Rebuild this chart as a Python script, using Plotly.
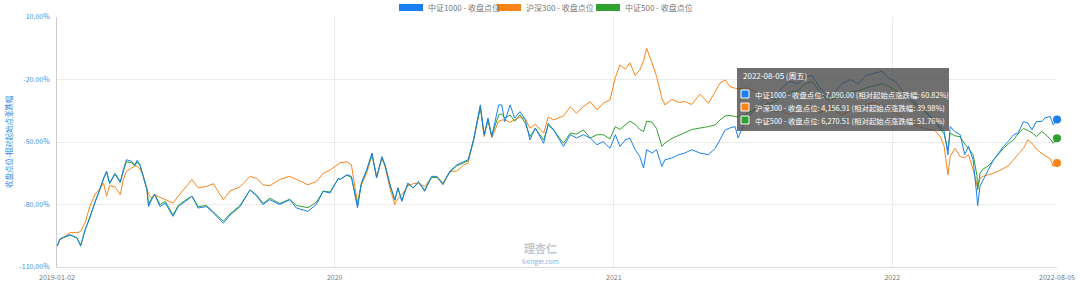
import plotly.graph_objects as go

dates = [
    "2019-01-02","2019-01-06","2019-01-19","2019-01-28","2019-02-02","2019-02-08","2019-02-14","2019-02-21",
    "2019-02-27","2019-03-04","2019-03-08","2019-03-12","2019-03-19","2019-03-26","2019-03-30","2019-04-03",
    "2019-04-10","2019-04-14","2019-04-17","2019-04-21","2019-04-25","2019-04-30","2019-05-02","2019-05-06",
    "2019-05-10","2019-05-17","2019-05-24","2019-06-03","2019-06-10","2019-06-19","2019-06-28","2019-07-06",
    "2019-07-17","2019-07-26","2019-08-08","2019-08-17","2019-08-30","2019-09-12","2019-09-21","2019-09-29",
    "2019-10-08","2019-10-21","2019-11-03","2019-11-12","2019-11-27","2019-12-08","2019-12-17","2019-12-26",
    "2020-01-06","2020-01-08","2020-01-17","2020-01-23","2020-01-31","2020-02-05","2020-02-12","2020-02-19",
    "2020-02-25","2020-03-03","2020-03-07","2020-03-14","2020-03-20","2020-03-24","2020-03-29","2020-04-06",
    "2020-04-13","2020-04-20","2020-04-28","2020-05-07","2020-05-14","2020-05-22","2020-05-31","2020-06-09",
    "2020-06-18","2020-06-24","2020-07-01","2020-07-10","2020-07-15","2020-07-20","2020-07-25","2020-08-03",
    "2020-08-07","2020-08-11","2020-08-18","2020-08-24","2020-08-31","2020-09-07","2020-09-13","2020-09-20",
    "2020-10-01","2020-10-07","2020-10-14","2020-10-27","2020-11-05","2020-11-13","2020-11-22","2020-12-01",
    "2020-12-10","2020-12-18","2020-12-27","2021-01-03","2021-01-09","2021-01-16","2021-01-22","2021-01-29",
    "2021-02-04","2021-02-09","2021-02-13","2021-02-20","2021-02-26","2021-03-05","2021-03-09","2021-03-18",
    "2021-03-27","2021-04-04","2021-04-13","2021-04-24","2021-05-05","2021-05-14","2021-05-20","2021-05-27",
    "2021-06-02","2021-06-09","2021-06-13","2021-06-22","2021-07-01","2021-07-12","2021-07-22","2021-07-31",
    "2021-08-09","2021-08-20","2021-08-30","2021-09-09","2021-09-18","2021-09-28","2021-10-09","2021-10-18",
    "2021-10-27","2021-11-07","2021-11-17","2021-11-28","2021-12-08","2021-12-19","2021-12-26","2022-01-05",
    "2022-01-18","2022-01-31","2022-02-13","2022-02-26","2022-03-05","2022-03-10","2022-03-15","2022-03-18",
    "2022-03-24","2022-03-31","2022-04-06","2022-04-11","2022-04-17","2022-04-22","2022-04-23","2022-04-26",
    "2022-04-30","2022-05-07","2022-05-14","2022-05-20","2022-05-27","2022-06-02","2022-06-09","2022-06-15",
    "2022-06-22","2022-06-28","2022-07-03","2022-07-09","2022-07-16","2022-07-20","2022-07-27","2022-07-31",
    "2022-08-05",
]

csi1000 = [
    -100,-96.5,-94.5,-96,-100,-92,-86.5,-78.5,
    -73,-67.3,-64,-69.7,-65,-69,-63.3,-58.5,
    -59.3,-61,-58.8,-61,-66.5,-73,-81,-77.7,
    -75.3,-81,-79.3,-85.7,-81,-78.5,-76.1,-81.7,
    -81,-84,-89,-85,-81,-73,-76,-80,
    -77.7,-80,-77.7,-81.7,-83.3,-80,-73.7,-74.5,
    -67.3,-68,-65.7,-66.5,-81.7,-69.7,-63.3,-55.3,
    -67.3,-57,-61,-71.3,-77.7,-72,-78.5,-69.7,
    -72,-69,-73.7,-66.5,-66.5,-70.5,-64,-61,
    -59.3,-58.5,-49,-32.2,-46.5,-38.5,-47.4,-32.2,
    -32.2,-40.2,-32.2,-38.5,-35.4,-39.4,-49,-43.3,
    -50.6,-41,-44.2,-52.1,-46.5,-48.1,-46.5,-48.1,
    -51.3,-49.8,-53,-46.5,-52.1,-49,-48.1,-53.7,
    -57,-62.5,-53.7,-55.3,-53.7,-61.7,-58.5,-57.7,
    -56.1,-55.3,-53.7,-55.3,-56.1,-53,-49,-44.2,
    -43.3,-42.6,-48.1,-40,-36,-32,-28,-30,
    -24,-21,-22,-19,-18,-24,-28,-26,
    -22,-20,-22,-18,-17,-16,-19,-21,
    -27,-31,-35,-40,-42.6,-45,-56.1,-42.6,
    -45,-46.5,-56,-52.1,-58.5,-76.1,-80.6,-71.3,
    -68.1,-63.3,-58.5,-55.3,-52.1,-49.8,-46.5,-45.7,
    -40.2,-41,-44.2,-40.2,-40.2,-38.5,-37.7,-41.8,
    -39.18,
]

csi500 = [
    -100,-96.5,-94.7,-96,-99.5,-92,-86,-78.5,
    -73,-67.8,-64.5,-70,-65.5,-69.5,-64,-59.5,
    -60,-61.5,-59.5,-61.5,-66.5,-73,-80,-77,
    -75,-80,-78.5,-85,-80.5,-78,-76,-81,
    -80.5,-83.5,-88,-84.5,-80.5,-73,-75.5,-79.5,
    -77,-79.5,-77.5,-80.5,-81.5,-79,-73.5,-74,
    -67.5,-68,-66,-67,-80.5,-70,-63.5,-56,
    -67,-57.5,-61,-71,-78,-72,-78,-70,
    -72,-69.5,-73,-67,-67,-70,-64.5,-61.5,
    -60,-59,-49.5,-33.5,-46.5,-39.5,-47,-37,
    -36.5,-38.5,-37,-40,-37,-41,-47.4,-43.5,
    -49,-42,-44.2,-50.6,-45.7,-46.2,-44.2,-48.1,
    -46.5,-46.5,-48.5,-42.6,-44,-42,-40,-41.5,
    -44,-45,-40,-40.5,-43.5,-52.1,-50.5,-48.3,
    -47,-45.5,-44,-43.4,-42.6,-41.8,-39.5,-37.5,
    -37.2,-37.8,-38,-37,-35,-33,-31.5,-31,
    -28,-26,-25.5,-22,-21,-26,-30,-29,
    -27,-26,-25.5,-24,-23,-22,-23,-25,
    -28,-32,-35.5,-40,-44,-46,-54,-45.7,
    -47,-47.5,-51,-53,-56.1,-66,-73,-65,
    -63,-61.5,-58.5,-56,-53,-51,-49,-46,
    -43.5,-44.5,-45.5,-47.4,-45,-46,-48.5,-50.6,
    -48.24,
]

csi300 = [
    -100,-97,-93.5,-93.5,-93,-88.5,-81,-75,
    -72.5,-69.7,-76,-71,-71.5,-75.3,-68,-64,
    -62.5,-61.5,-61.7,-63,-66,-72,-75,-76.9,
    -75.5,-76.5,-77.7,-79.3,-76,-72,-68,-72,
    -71.3,-70,-77.7,-73.5,-71.5,-66.5,-67.5,-70.5,
    -71,-68,-66.5,-68,-70.5,-69,-65,-63.5,
    -60.5,-60,-59.5,-61,-79.3,-70.5,-65,-56,
    -66.5,-57.7,-61.7,-73,-80,-77,-75.5,-71,
    -70,-69.7,-71.5,-67,-66.5,-69.7,-64.1,-64,
    -61,-60,-49,-33,-47.4,-39.4,-48,-40,
    -39.5,-39.4,-40.5,-39.5,-38,-39,-43.3,-41.5,
    -45.7,-38,-39.4,-37.5,-33,-36.2,-33,-30.6,
    -34.6,-31.4,-29.8,-19,-13,-15,-12,-18,
    -15.5,-11,-5,-12,-18.5,-29,-32.2,-29.5,
    -31,-30.6,-32,-27,-31.4,-25.8,-21.8,-20.2,
    -23.4,-24.2,-24.5,-24,-25,-27,-31,-35.5,
    -35,-37,-34,-33,-33.5,-36,-34,-35,
    -37,-35,-34,-32,-31,-33,-34,-36,
    -39,-42,-43.5,-44.5,-47.4,-52,-65.7,-57,
    -53,-57,-57.5,-56.1,-63.3,-70,-72.1,-67.5,
    -66.5,-65.7,-65,-64,-62.5,-61.5,-58.5,-56,
    -53,-49,-50.5,-53.5,-55.5,-56.5,-58,-61.7,
    -60.02,
]

series_names = ["中证1000 - 收盘点位", "沪深300 - 收盘点位", "中证500 - 收盘点位"]
series_colors = ["#1a7ff0", "#fa8419", "#2fa12f"]
tooltip_title = "2022-08-05 (周五)"
tooltip_rows = [
    "中证1000 - 收盘点位: 7,090.00 (相对起始点涨跌幅: 60.82%)",
    "沪深300 - 收盘点位: 4,156.91 (相对起始点涨跌幅: 39.98%)",
    "中证500 - 收盘点位: 6,270.51 (相对起始点涨跌幅: 51.76%)",
]
y_ticks = [10, -20, -50, -80, -110]
y_tick_labels = ["10.00%", "-20.00%", "-50.00%", "-80.00%", "-110.00%"]
x_ticks = ["2019-01-02", "2020-01-01", "2021-01-01", "2022-01-01", "2022-08-05"]
x_tick_labels = ["2019-01-02", "2020", "2021", "2022", "2022-08-05"]
y_title = "收盘点位-相对起始点涨跌幅"

FONT = "Noto Sans CJK SC, Noto Sans, sans-serif"

fig = go.Figure()
all_values = [csi1000, csi300, csi500]
draw_order = [1, 2, 0]
for i in draw_order:
    fig.add_trace(go.Scatter(
        x=dates, y=all_values[i], mode="lines", name=series_names[i],
        line=dict(color=series_colors[i], width=1), showlegend=False,
        hoverinfo="skip",
    ))
for i in range(3):
    fig.add_trace(go.Scatter(
        x=[dates[-1]], y=[all_values[i][-1]], mode="markers",
        marker=dict(color=series_colors[i], size=8, line=dict(width=0)),
        showlegend=False, hoverinfo="skip", cliponaxis=False,
    ))

shapes = []
annotations = []

# legend (manual, rectangular swatches)
leg_x = [0.342, 0.440, 0.539]
for i in range(3):
    shapes.append(dict(type="rect", xref="paper", yref="paper",
                       x0=leg_x[i], x1=leg_x[i] + 0.024, y0=1.024, y1=1.052,
                       fillcolor=series_colors[i], line=dict(width=0)))
    annotations.append(dict(xref="paper", yref="paper", x=leg_x[i] + 0.027, y=1.038,
                            xanchor="left", yanchor="middle", showarrow=False,
                            text=series_names[i], font=dict(family=FONT, size=8, color="#777")))

# y axis title
annotations.append(dict(xref="paper", yref="paper", x=-0.049, y=0.5, textangle=-90,
                        xanchor="center", yanchor="middle", showarrow=False, text=y_title,
                        font=dict(family=FONT, size=7.5, color="#2f8ae6")))

# watermark
annotations.append(dict(xref="paper", yref="paper", x=0.483, y=0.078, xanchor="center", yanchor="middle",
                        showarrow=False, text="<b>理杏仁</b>",
                        font=dict(family=FONT, size=11, color="#c4c8cc")))
annotations.append(dict(xref="paper", yref="paper", x=0.483, y=0.026, xanchor="center", yanchor="middle",
                        showarrow=False, text="lixinger.com",
                        font=dict(family=FONT, size=6.5, color="#7fb2e6")))

# tooltip box
shapes.append(dict(type="rect", xref="paper", yref="paper", x0=0.680, x1=0.892, y0=0.544, y1=0.796,
                   fillcolor="rgba(70,70,70,0.78)", line=dict(width=0), layer="above"))
annotations.append(dict(xref="paper", yref="paper", x=0.684, y=0.765, xanchor="left", yanchor="middle",
                        showarrow=False, text=tooltip_title,
                        font=dict(family=FONT, size=8, color="#ffffff")))
row_y = [0.692, 0.640, 0.588]
for i in range(3):
    shapes.append(dict(type="rect", xref="paper", yref="paper", x0=0.684, x1=0.692,
                       y0=row_y[i] - 0.016, y1=row_y[i] + 0.016, fillcolor=series_colors[i],
                       line=dict(color="#ffffff", width=1), layer="above"))
    annotations.append(dict(xref="paper", yref="paper", x=0.696, y=row_y[i], xanchor="left",
                            yanchor="middle", showarrow=False, text=tooltip_rows[i],
                            font=dict(family=FONT, size=7.4, color="#ffffff")))

fig.update_layout(
    width=1080, height=284,
    margin=dict(l=57, r=23, t=17, b=17, autoexpand=False),
    paper_bgcolor="white", plot_bgcolor="white",
    font=dict(family=FONT, size=7, color="#777"),
    showlegend=False,
    shapes=shapes, annotations=annotations,
    xaxis=dict(type="date", range=[x_ticks[0], x_ticks[-1]], tickvals=x_ticks, ticktext=x_tick_labels,
               showgrid=True, gridcolor="#ebebeb", gridwidth=1, zeroline=False,
               showline=True, linecolor="#dddddd", linewidth=1,
               ticks="outside", ticklen=4, tickcolor="rgba(0,0,0,0)", automargin=False,
               tickfont=dict(family=FONT, size=7, color="#777")),
    yaxis=dict(range=[-110, 10], tickvals=y_ticks, ticktext=y_tick_labels,
               showgrid=True, gridcolor="#ebebeb", gridwidth=1, zeroline=False,
               showline=True, linecolor="#cccccc", linewidth=1, ticks="outside", ticklen=5,
               tickcolor="rgba(0,0,0,0)", automargin=False,
               tickfont=dict(family=FONT, size=7, color="#3a8fe6")),
)

fig.write_html("out.html")
